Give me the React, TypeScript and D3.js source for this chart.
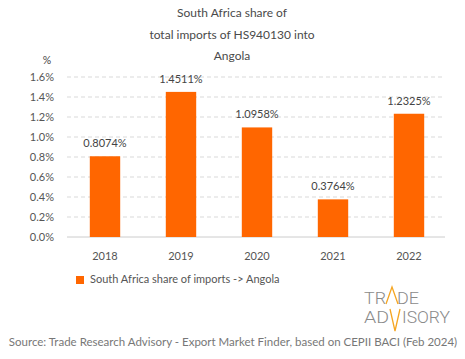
import React from "react";
import * as d3 from "d3";

const categories = ["2018", "2019", "2020", "2021", "2022"];
const values = [0.8074, 1.4511, 1.0958, 0.3764, 1.2325];
const yTicks = [0, 0.2, 0.4, 0.6, 0.8, 1.0, 1.2, 1.4, 1.6];
const titleLines = ["South Africa share of", "total imports of HS940130 into", "Angola"];
const legendLabel = "South Africa share of imports -> Angola";
const sourceText = "Source: Trade Research Advisory - Export Market Finder, based on CEPII BACI (Feb 2024)";

const W = 465;
const H = 359;
const FONT = "Lato, 'Open Sans', sans-serif";
const ORANGE = "#FF6600";
const GRAY = "#555";

export default function App() {
  const x = d3.scaleBand<string>().domain(categories).range([67, 447]).paddingInner(0.6).paddingOuter(0.3);
  const y = d3.scaleLinear().domain([0, 1.6]).range([237, 77]);
  const bw = x.bandwidth();
  return (
    <svg width={W} height={H} style={{ position: "absolute", left: 0, top: 0, fontFamily: FONT }}>
      <rect width={W} height={H} fill="#fff" />
      {titleLines.map((t, i) => (
        <text key={i} x={232} y={17 + i * 21.5} textAnchor="middle" fontSize={12} fill="#4a4a4a">
          {t}
        </text>
      ))}
      <text x={47} y={64} textAnchor="middle" fontSize={10.5} fill="#444">%</text>
      {yTicks.map((t) => (
        <g key={t}>
          <line
            x1={67}
            x2={445}
            y1={y(t)}
            y2={y(t)}
            stroke={t === 0 ? "#ccc" : "#d9d9d9"}
            strokeDasharray={t === 0 ? undefined : "4,3"}
          />
          <text x={54} y={y(t) + 4} textAnchor="end" fontSize={11} fill={GRAY}>
            {t.toFixed(1)}%
          </text>
        </g>
      ))}
      {categories.map((c, i) => (
        <g key={c}>
          <rect x={x(c)} y={y(values[i])} width={bw} height={y(0) - y(values[i])} fill={ORANGE} />
          <text x={(x(c) as number) + bw / 2} y={y(values[i]) - 9} textAnchor="middle" fontSize={11} fill="#444">
            {values[i].toFixed(4)}%
          </text>
          <text x={(x(c) as number) + bw / 2} y={260} textAnchor="middle" fontSize={11} fill={GRAY}>
            {c}
          </text>
        </g>
      ))}
      <rect x={76} y={276} width={8} height={8} fill={ORANGE} />
      <text x={90} y={283} fontSize={11} fill={GRAY}>{legendLabel}</text>
      {/* logo */}
      <g fontFamily="Roboto, sans-serif" fontSize={16} fill="#8a8a8a" style={{ fontWeight: 300 }}>
        <text x={364} y={304} textLength={22} lengthAdjust="spacingAndGlyphs">TR</text>
        <text x={397} y={304} textLength={22} lengthAdjust="spacingAndGlyphs">DE</text>
        <path d="M386,304 L392,287 L398,304" fill="none" stroke="#F5A623" strokeWidth={1.3} />
        <text x={364} y={323} textLength={25} lengthAdjust="spacingAndGlyphs">AD</text>
        <text x={402} y={323} textLength={48} lengthAdjust="spacingAndGlyphs">ISORY</text>
        <path d="M390,309 L395,331 L400,309" fill="none" stroke="#F5A623" strokeWidth={1.3} />
      </g>
      <text x={233} y={346} textAnchor="middle" fontSize={11.5} fill="#777">{sourceText}</text>
    </svg>
  );
}
